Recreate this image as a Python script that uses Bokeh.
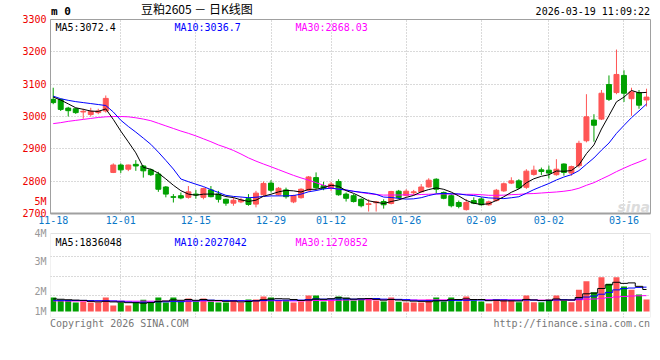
from html import escape
from bokeh.plotting import figure
from bokeh.layouts import column
from bokeh.models import FixedTicker, Label, Range1d, ColumnDataSource, BoxAnnotation, Div
from bokeh.embed import file_html
from bokeh.resources import INLINE

# ---------------- data ----------------
tick_idx = [0, 9, 19, 29, 37, 47, 57, 66, 76]
tick_labels = ["11-18", "12-01", "12-15", "12-29", "01-12", "01-26", "02-09", "03-02", "03-16"]
price_ticks = [2700, 2800, 2900, 3000, 3100, 3200, 3300]

open_ = [3053, 3053, 3026, 3024, 3014, 3006, 3012, 3017, 2827, 2850,
         2837, 2852, 2847, 2835, 2822, 2782, 2752, 2755, 2750, 2760,
         2750, 2773, 2760, 2744, 2732, 2736, 2746, 2729, 2758, 2794,
         2758, 2773, 2736, 2749, 2772, 2811, 2786, 2778, 2799, 2760,
         2755, 2744, 2728, 2733, 2737, 2731, 2769, 2756, 2764, 2767,
         2782, 2806, 2765, 2755, 2734, 2712, 2740, 2745, 2727, 2740,
         2770, 2794, 2801, 2781, 2821, 2835, 2834, 2820, 2853, 2825,
         2848, 2925, 2989, 2992, 3099, 3074, 3127, 3055, 3074, 3051]
high = [3089, 3055, 3030, 3026, 3024, 3027, 3024, 3065, 2855, 2855,
        2851, 2865, 2850, 2839, 2829, 2785, 2760, 2765, 2785, 2773,
        2780, 2785, 2770, 2746, 2750, 2749, 2760, 2770, 2799, 2803,
        2782, 2780, 2758, 2778, 2816, 2827, 2798, 2798, 2806, 2765,
        2760, 2747, 2744, 2739, 2744, 2770, 2773, 2775, 2773, 2791,
        2809, 2809, 2768, 2760, 2740, 2745, 2750, 2750, 2740, 2776,
        2796, 2812, 2806, 2837, 2848, 2842, 2848, 2868, 2855, 2848,
        2925, 3069, 3007, 3082, 3127, 3207, 3143, 3089, 3082, 3086]
low = [3038, 3017, 3000, 3008, 2993, 3000, 3007, 3012, 2825, 2825,
       2831, 2832, 2811, 2816, 2767, 2750, 2734, 2744, 2746, 2746,
       2744, 2750, 2734, 2724, 2724, 2732, 2724, 2719, 2755, 2765,
       2755, 2746, 2732, 2746, 2768, 2775, 2772, 2770, 2755, 2737,
       2734, 2719, 2706, 2706, 2715, 2728, 2744, 2752, 2757, 2765,
       2780, 2762, 2744, 2719, 2716, 2709, 2729, 2724, 2724, 2737,
       2767, 2791, 2776, 2776, 2817, 2819, 2808, 2817, 2817, 2817,
       2842, 2920, 2922, 2989, 3048, 3069, 3045, 3002, 3024, 3031]
close = [3043, 3022, 3018, 3012, 3016, 3016, 3017, 3056, 2850, 2835,
         2850, 2847, 2832, 2820, 2775, 2760, 2750, 2748, 2767, 2757,
         2777, 2752, 2744, 2732, 2741, 2742, 2728, 2763, 2793, 2772,
         2778, 2752, 2755, 2775, 2813, 2780, 2778, 2791, 2758, 2747,
         2737, 2724, 2730, 2736, 2727, 2768, 2749, 2769, 2767, 2782,
         2803, 2775, 2747, 2724, 2722, 2734, 2732, 2727, 2736, 2772,
         2792, 2801, 2779, 2831, 2834, 2830, 2825, 2837, 2827, 2845,
         2917, 2999, 2973, 3072, 3053, 3130, 3072, 3076, 3035, 3060]
volume = [1170000, 970000, 920000, 750000, 830000, 750000, 750000, 1170000, 500000, 750000,
          500000, 750000, 970000, 750000, 1170000, 750000, 1170000, 830000, 1080000, 830000,
          1080000, 830000, 750000, 750000, 920000, 750000, 1000000, 1000000, 1250000, 1170000,
          920000, 920000, 750000, 830000, 1330000, 1330000, 830000, 1000000, 1250000, 1140000,
          920000, 1000000, 1080000, 920000, 830000, 1170000, 810000, 750000, 750000, 750000,
          1000000, 1170000, 830000, 1170000, 830000, 1250000, 920000, 830000, 670000, 1000000,
          1000000, 920000, 780000, 1330000, 780000, 780000, 1000000, 1330000, 920000, 780000,
          1810000, 2530000, 1610000, 2860000, 2310000, 2860000, 2080000, 1810000, 1420000, 1000000]

# moving-average values before enough history is on the chart
ma5_head = [3060, 3051, 3039, 3027]
ma10_head = [3063, 3055, 3050, 3046, 3043, 3040, 3037, 3034, 3014]
ma30_head = [2978, 2981, 2985, 2988, 2991, 2994, 2997, 2999, 3000, 3000,
             2999, 2996, 2992, 2987, 2979, 2971, 2963, 2955, 2948, 2940,
             2931, 2922, 2912, 2904, 2895, 2884, 2872, 2862, 2853]
vma5_head = [1050000, 1020000, 980000, 950000]
vma10_head = [930000, 930000, 920000, 920000, 920000, 910000, 900000, 900000, 880000]
vma30_head = [880000, 880000, 870000, 870000, 870000, 870000, 870000, 870000, 870000, 860000,
              860000, 860000, 860000, 860000, 860000, 860000, 860000, 870000, 870000, 870000,
              870000, 870000, 870000, 880000, 880000, 880000, 880000, 890000, 890000]

ma_price_text = ["MA5:3072.4", "MA10:3036.7", "MA30:2868.03"]
ma_vol_text = ["MA5:1836048", "MA10:2027042", "MA30:1270852"]
header_left = "m 0"
header_title = "豆粕2605 － 日K线图"
header_time = "2026-03-19 11:09:22"
footer_left = "Copyright 2026 SINA.COM"
footer_right = "http://finance.sina.com.cn"


def moving_average(vals, window, head):
    out = list(head)
    for i in range(len(head), len(vals)):
        out.append(sum(vals[i - window + 1:i + 1]) / window)
    return out


n = len(close)
idx = list(range(n))
UP = "#ff5555"
DOWN = "#00a000"
colors = [UP if c >= o else DOWN for o, c in zip(open_, close)]
src = ColumnDataSource(dict(
    x=idx, high=high, low=low,
    top=[max(o, c) for o, c in zip(open_, close)],
    bottom=[min(o, c) for o, c in zip(open_, close)],
    vol=volume, color=colors))

ma5 = moving_average(close, 5, ma5_head)
ma10 = moving_average(close, 10, ma10_head)
ma30 = moving_average(close, 30, ma30_head)
vma5 = moving_average(volume, 5, vma5_head)
vma10 = moving_average(volume, 10, vma10_head)
vma30 = moving_average(volume, 30, vma30_head)

MONO = "DejaVu Sans Mono"
GRID = "#b4b4b4"
BORDER = "#a0a0a0"
BLUE = "#0000ff"
MAGENTA = "#ff00ff"
GRAY_LABEL = "#999999"
W = 652

X0, X1 = -0.36, 79.53
xr = Range1d(X0, X1)


def lab(fig, text, x, y, color="black", size="10px", align="left", font=MONO,
        style="normal", baseline="alphabetic"):
    fig.add_layout(Label(x=x, y=y, x_units="screen", y_units="screen", text=text,
                         text_color=color, text_font_size=size, text_align=align,
                         text_baseline=baseline, text_font=font, text_font_style=style))


def style_axis(ax, color, standoff):
    ax.major_label_text_color = color
    ax.major_label_text_font = MONO
    ax.major_label_text_font_size = "10px"
    ax.major_tick_line_color = None
    ax.minor_tick_line_color = None
    ax.major_tick_out = 0
    ax.major_tick_in = 0
    ax.minor_tick_out = 0
    ax.minor_tick_in = 0
    ax.major_label_standoff = standoff


def span(text, pos, top, font, size, color="#000000", weight="normal"):
    return (f'<span style="position:absolute;{pos};top:{top}px;font-family:\'{font}\';'
            f'font-size:{size}px;font-weight:{weight};line-height:1;color:{color};'
            f'white-space:pre;">{escape(text)}</span>')


def strip(height, spans):
    html = (f'<div style="position:relative;width:{W}px;height:{height}px;margin:0;padding:0;">'
            + "".join(spans) + '</div>')
    return Div(text=html, width=W, height=height, margin=0)


# ---------------- header ----------------
hdr = strip(15, [
    span(header_left, "left:51px", 5.5, MONO, 11, weight="bold"),
    span(header_title, "left:141px", 2.6, "Noto Sans CJK SC", 12),
    span(header_time, "right:2px", 6.5, MONO, 10),
])

# ---------------- price panel ----------------
p = figure(width=W, height=212, x_range=xr, y_range=Range1d(2700, 3300),
           output_backend="svg", toolbar_location=None,
           min_border_left=50, min_border_right=2, min_border_top=4, min_border_bottom=14)
p.outline_line_color = BORDER
p.background_fill_color = "white"
p.border_fill_color = "white"

# the price scale; the reference also shows a "5M" (volume scale) in this column
axis_ticks = price_ticks + [2737]
p.yaxis.ticker = FixedTicker(ticks=axis_ticks)
p.yaxis.major_label_overrides = {2737: "5M"}
style_axis(p.yaxis[0], "#ee0000", 4)
p.yaxis.axis_line_color = BORDER

p.xaxis.ticker = FixedTicker(ticks=tick_idx)
p.xaxis.major_label_overrides = {i: s for i, s in zip(tick_idx, tick_labels)}
style_axis(p.xaxis[0], "#0a78c8", 2)
p.xaxis.axis_line_color = BORDER
p.xaxis.axis_line_width = 2

p.xgrid.ticker = FixedTicker(ticks=tick_idx[1:])
p.ygrid.ticker = FixedTicker(ticks=price_ticks[1:-1])
for g in (p.xgrid, p.ygrid):
    g.grid_line_color = GRID
    g.grid_line_dash = "1 2"

p.segment(x0="x", y0="low", x1="x", y1="high", color="color", line_width=1, source=src)
p.vbar(x="x", width=0.66, top="top", bottom="bottom", fill_color="color",
       line_color="color", line_width=1, source=src)
p.line(idx, ma30, color=MAGENTA, line_width=1)
p.line(idx, ma10, color=BLUE, line_width=1)
p.line(idx, ma5, color="black", line_width=1)

lab(p, ma_price_text[0], 5, 185.7, color="black")
lab(p, ma_price_text[1], 124, 185.7, color=BLUE)
lab(p, ma_price_text[2], 245, 185.7, color=MAGENTA)
lab(p, "sina", 567, 7, color="#dcdcdc", size="14px", font="DejaVu Sans", style="bold italic")

# ---------------- volume panel ----------------
VTOP = 6500000
v = figure(width=W, height=91, x_range=xr, y_range=Range1d(-500000, 7000000),
           output_backend="svg", toolbar_location=None, x_axis_location=None,
           min_border_left=50, min_border_right=2, min_border_top=0, min_border_bottom=1)
v.outline_line_color = None
v.background_fill_color = "white"
v.border_fill_color = "white"

vol_label_ticks = [6670000, 4190000, 1690000, 0]
vol_label_text = ["4M", "3M", "2M", "1M"]
v.yaxis.ticker = FixedTicker(ticks=vol_label_ticks)
v.yaxis.major_label_overrides = {t: s for t, s in zip(vol_label_ticks, vol_label_text)}
style_axis(v.yaxis[0], GRAY_LABEL, 4)
v.yaxis.axis_line_color = None

v.xgrid.ticker = FixedTicker(ticks=tick_idx[1:])
v.ygrid.ticker = FixedTicker(ticks=[1308000, 2942000, 4583000])
for g in (v.xgrid, v.ygrid):
    g.grid_line_color = GRID
    g.grid_line_dash = "1 2"

v.vbar(x="x", width=0.8, top="vol", bottom=0, fill_color="color", line_color=None, source=src)
v.step(idx, vma30, mode="center", color=MAGENTA, line_width=1)
v.step(idx, vma10, mode="center", color=BLUE, line_width=1)
v.step(idx, vma5, mode="center", color="black", line_width=1)

# white strip above the volume box, then the box border itself
v.add_layout(BoxAnnotation(left=X0, right=X1, bottom=VTOP, top=7000000,
                           fill_color="white", fill_alpha=1.0, line_color=None))
v.add_layout(BoxAnnotation(left=X0, right=X1, bottom=-500000, top=VTOP,
                           fill_color=None, line_color=BORDER, line_width=1))

lab(v, ma_vol_text[0], 5, 75.5, color="black")
lab(v, ma_vol_text[1], 124, 75.5, color=BLUE)
lab(v, ma_vol_text[2], 245, 75.5, color=MAGENTA)

# ---------------- footer ----------------
ftr = strip(16, [
    span(footer_left, "left:50px", 1, MONO, 10, color="#777777"),
    span(footer_right, "right:2px", 1, MONO, 10, color="#777777"),
])

layout = column(hdr, p, v, ftr, spacing=0)
open("out.html", "w").write(file_html(layout, INLINE))
